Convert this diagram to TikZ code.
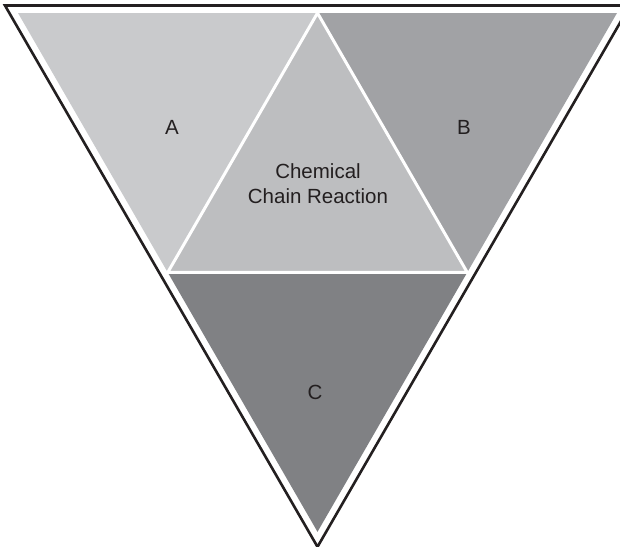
\documentclass[tikz,border=0pt]{standalone}
\usepackage{fontspec}
\setmainfont{Liberation Sans}
\usetikzlibrary{calc}
\definecolor{regA}{HTML}{C9CACC}
\definecolor{regM}{HTML}{BDBEC0}
\definecolor{regB}{HTML}{A1A2A5}
\definecolor{regC}{HTML}{808184}
\definecolor{txt}{HTML}{231F20}
\tikzset{
  region/.style={draw=white, line width=3pt, line join=miter},
  outline/.style={draw=txt, line width=2.6pt, line join=miter},
  lbl/.style={text=txt, font=\fontsize{20.5}{25}\selectfont, align=center, inner sep=0pt}
}
\begin{document}
\begin{tikzpicture}[x=1pt,y=-1pt]
\useasboundingbox[fill=white] (0,0) rectangle (620,546);
% outer triangle
\coordinate (o1) at (5,5.5);
\coordinate (o2) at (630,5.5);
\coordinate (o3) at (317.5,546.8);
% inner triangle
\coordinate (t1) at (18,13);
\coordinate (t2) at (617,13);
\coordinate (t3) at (317.5,531.8);
\coordinate (mT) at ($(t1)!0.5!(t2)$);
\coordinate (mL) at ($(t1)!0.5!(t3)$);
\coordinate (mR) at ($(t2)!0.5!(t3)$);
\fill[regA] (t1) -- (mT) -- (mL) -- cycle;
\fill[regB] (mT) -- (t2) -- (mR) -- cycle;
\fill[regC] (mL) -- (mR) -- (t3) -- cycle;
\fill[regM] (mT) -- (mR) -- (mL) -- cycle;
\draw[region] (mT) -- (mR) -- (mL) -- cycle;
\draw[outline] (o1) -- (o2) -- (o3) -- cycle;
\node[lbl] (a) at (172,127) {A};
\node[lbl] (b) at (464,127) {B};
\node[lbl] (m) at (318,184) {Chemical\\Chain Reaction};
\node[lbl] (c) at (315,392) {C};
\end{tikzpicture}
\end{document}
